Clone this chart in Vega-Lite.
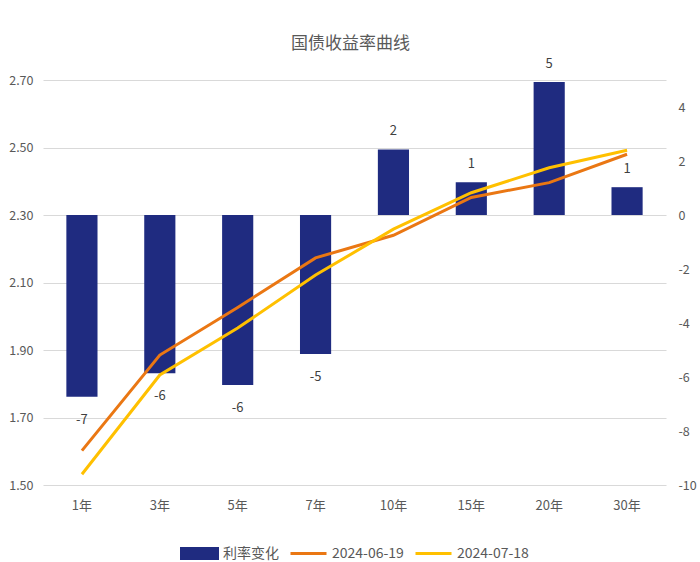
{
  "$schema": "https://vega.github.io/schema/vega-lite/v6.json",
  "autosize": {"type": "none"},
  "width": 623,
  "height": 405,
  "padding": {"left": 43, "top": 80, "right": 34, "bottom": 77},
  "background": "white",
  "title": {
    "text": "国债收益率曲线",
    "fontSize": 17,
    "fontWeight": "normal",
    "color": "#595959",
    "font": "Noto Sans CJK SC",
    "anchor": "middle",
    "offset": 5,
    "dx": -4
  },
  "config": {
    "locale": {"number": {"decimal": ".", "thousands": ",", "grouping": [3], "currency": ["$", ""], "minus": "-"}},
    "view": {"stroke": null},
    "font": "Noto Sans CJK SC",
    "axis": {"labelFont": "Noto Sans CJK SC", "labelColor": "#595959", "labelFontSize": 12.5, "ticks": false, "domain": false, "title": null},
    "legend": {"labelFont": "Noto Sans CJK SC", "layout": {"bottom": {"anchor": "middle"}}}
  },
  "datasets": {
    "bars": [
      {"term": "1年", "change": -6.73},
      {"term": "3年", "change": -5.86},
      {"term": "5年", "change": -6.3},
      {"term": "7年", "change": -5.15},
      {"term": "10年", "change": 2.43},
      {"term": "15年", "change": 1.21},
      {"term": "20年", "change": 4.93},
      {"term": "30年", "change": 1.03}
    ],
    "lines": [
      {"term": "1年", "date": "2024-06-19", "yield": 1.602},
      {"term": "3年", "date": "2024-06-19", "yield": 1.885},
      {"term": "5年", "date": "2024-06-19", "yield": 2.026},
      {"term": "7年", "date": "2024-06-19", "yield": 2.173},
      {"term": "10年", "date": "2024-06-19", "yield": 2.24},
      {"term": "15年", "date": "2024-06-19", "yield": 2.352},
      {"term": "20年", "date": "2024-06-19", "yield": 2.396},
      {"term": "30年", "date": "2024-06-19", "yield": 2.48},
      {"term": "1年", "date": "2024-07-18", "yield": 1.532},
      {"term": "3年", "date": "2024-07-18", "yield": 1.826},
      {"term": "5年", "date": "2024-07-18", "yield": 1.965},
      {"term": "7年", "date": "2024-07-18", "yield": 2.122},
      {"term": "10年", "date": "2024-07-18", "yield": 2.258},
      {"term": "15年", "date": "2024-07-18", "yield": 2.366},
      {"term": "20年", "date": "2024-07-18", "yield": 2.44},
      {"term": "30年", "date": "2024-07-18", "yield": 2.492}
    ]
  },
  "encoding": {
    "x": {
      "field": "term",
      "type": "nominal",
      "sort": ["1年", "3年", "5年", "7年", "10年", "15年", "20年", "30年"],
      "scale": {"paddingInner": 0.6, "paddingOuter": 0.3},
      "axis": {"labelAngle": 0, "labelPadding": 14, "grid": false, "labelFontSize": 13}
    }
  },
  "layer": [
    {
      "data": {"name": "bars"},
      "encoding": {
        "y": {
          "field": "change",
          "type": "quantitative",
          "scale": {"domain": [-10, 5], "nice": false},
          "axis": {"orient": "right", "values": [-10, -8, -6, -4, -2, 0, 2, 4], "grid": false, "labelPadding": 12}
        }
      },
      "layer": [
        {
          "mark": {"type": "bar"},
          "encoding": {
            "color": {"datum": "利率变化", "type": "nominal"}
          }
        },
        {
          "transform": [{"filter": "datum.change < 0"}],
          "mark": {"type": "text", "baseline": "middle", "dy": 23, "fontSize": 13, "color": "#404040"},
          "encoding": {"text": {"field": "change", "type": "quantitative", "format": ".0f"}}
        },
        {
          "transform": [{"filter": "datum.change >= 0"}],
          "mark": {"type": "text", "baseline": "middle", "dy": -18, "fontSize": 13, "color": "#404040"},
          "encoding": {"text": {"field": "change", "type": "quantitative", "format": ".0f"}}
        }
      ]
    },
    {
      "data": {"name": "lines"},
      "mark": {"type": "line", "strokeWidth": 3},
      "encoding": {
        "y": {
          "field": "yield",
          "type": "quantitative",
          "scale": {"domain": [1.5, 2.7], "zero": false, "nice": false},
          "axis": {"orient": "left", "values": [1.5, 1.7, 1.9, 2.1, 2.3, 2.5, 2.7], "format": ".2f", "grid": true, "gridColor": "#D9D9D9", "gridWidth": 1, "labelPadding": 10}
        },
        "color": {
          "field": "date",
          "type": "nominal",
          "scale": {"domain": ["利率变化", "2024-06-19", "2024-07-18"], "range": ["#1F2B80", "#EA7713", "#FFC000"]},
          "legend": {
            "title": null,
            "orient": "bottom",
            "direction": "horizontal",
            "offset": 22,
            "symbolSize": 1296,
            "labelFontSize": 14,
            "labelColor": "#595959",
            "labelOffset": 4,
            "columnPadding": 5,
            "gridAlign": "none",
            "encode": {
              "symbols": {
                "update": {
                  "shape": {"signal": "datum.value === '利率变化' ? 'M-1,-0.28H1V0.28H-1Z' : 'M-1,0H1'"},
                  "fill": {"signal": "datum.value === '利率变化' ? '#1F2B80' : 'transparent'"},
                  "stroke": {"signal": "datum.value === '利率变化' ? 'transparent' : (datum.value === '2024-06-19' ? '#EA7713' : '#FFC000')"},
                  "strokeWidth": {"value": 3},
                  "opacity": {"value": 1}
                }
              }
            }
          }
        },
        "order": {"value": null}
      }
    }
  ],
  "resolve": {"scale": {"y": "independent"}, "axis": {"y": "independent"}}
}
